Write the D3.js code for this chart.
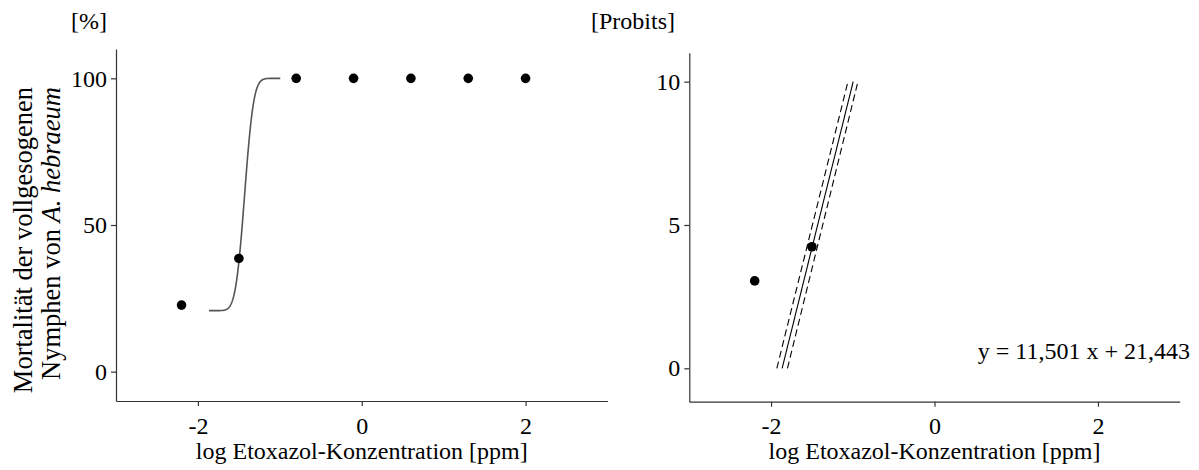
<!DOCTYPE html>
<html><head><meta charset="utf-8">
<script src="https://cdn.jsdelivr.net/npm/d3@7"></script>
<style>
body{margin:0;background:#fff;}
text{font-family:"Liberation Serif","Times New Roman",serif;fill:#000;}
</style></head>
<body><svg id="c" width="1199" height="470"></svg>
<script>
// ---- data ----
const logConc = [-2.2, -1.5, -0.8, -0.1, 0.6, 1.3, 2.0];
const mortality = [22.7, 38.6, 100, 100, 100, 100, 100];
const probitX = [-2.2, -1.5];
const probitY = [3.05, 4.24];
const fitSlope = [11.501];
const fitIntercept = [21.443];
const controlMortality = [20.8];
const ciLowerX = [-1.929, -1.059];
const ciUpperX = [-1.799, -0.937];
const ciProbit = [0, 10];
const xTicks = [-2, 0, 2];
const leftYTicks = [0, 50, 100];
const rightYTicks = [0, 5, 10];
const equationLabel = ["y = 11,501 x + 21,443"];

const svg = d3.select("#c");
const FS = 24;

function erf(x){const s=Math.sign(x);x=Math.abs(x);const t=1/(1+0.3275911*x);
 const y=1-(((((1.061405429*t-1.453152027)*t)+1.421413741)*t-0.284496736)*t+0.254829592)*t*Math.exp(-x*x);return s*y;}
const Phi = z => 0.5*(1+erf(z/Math.SQRT2));

const a = fitSlope[0], b = fitIntercept[0];
const xAtProbit = p => (p-b)/a;

function panel(xr, yr, ydom){
  const x = d3.scaleLinear().domain([-3,3]).range(xr);
  const y = d3.scaleLinear().domain(ydom).range(yr);
  return {x,y};
}

function drawAxes(p, yTicks, xr, yr){
  const gx = svg.append("g").attr("transform",`translate(0,${yr[0]})`)
    .call(d3.axisBottom(p.x).tickValues(xTicks).tickSize(5).tickSizeOuter(0).tickPadding(6).tickFormat(d=>d));
  const gy = svg.append("g").attr("transform",`translate(${xr[0]},0)`)
    .call(d3.axisLeft(p.y).tickValues(yTicks).tickSize(5).tickSizeOuter(0).tickPadding(4).tickFormat(d=>d));
  [gx,gy].forEach(g=>{
    g.selectAll("path.domain").attr("stroke","#333").attr("stroke-width",1.2);
    g.selectAll(".tick line").attr("stroke","#333").attr("stroke-width",1.2);
    g.selectAll(".tick text").attr("font-size",FS).attr("font-family","Liberation Serif").attr("fill","#000");
  });
  gx.selectAll(".tick text").attr("dy","0.9em");
}

// ---- left panel ----
const Lx=[116,607.5], Ly=[401,49];
const L = panel(Lx, Ly, [-10,110]);
drawAxes(L, leftYTicks, Lx, Ly);

const c = controlMortality[0];
const curveX = d3.range(0,201).map(i=>xAtProbit(0)+(xAtProbit(10)-xAtProbit(0))*i/200);
svg.append("path")
  .datum(curveX)
  .attr("fill","none").attr("stroke","#555").attr("stroke-width",1.6)
  .attr("d", d3.line().x(d=>L.x(d)).y(d=>L.y(c+(100-c)*Phi(a*d+b-5))));

svg.append("g").selectAll("circle").data(logConc).join("circle")
  .attr("cx",d=>L.x(d)).attr("cy",(d,i)=>L.y(mortality[i])).attr("r",4.8).attr("fill","#000");

svg.append("text").attr("x",107).attr("y",29).attr("text-anchor","end").attr("font-size",FS).text("[%]");
svg.append("text").attr("x",L.x(0)).attr("y",459).attr("text-anchor","middle").attr("font-size",FS)
  .text("log Etoxazol-Konzentration [ppm]");

const YFS = 26.5;
const yt = svg.append("g").attr("transform","rotate(-90)");
yt.append("text").attr("x",-87).attr("y",32).attr("text-anchor","end").attr("font-size",YFS)
  .text("Mortalität der vollgesogenen");
const t2 = yt.append("text").attr("x",-87).attr("y",60).attr("text-anchor","end").attr("font-size",YFS);
t2.append("tspan").text("Nymphen von ");
t2.append("tspan").attr("font-style","italic").text("A. hebraeum");

// ---- right panel ----
const Rx=[689.3,1179.7], Ry=[401.7,52.7];
const R = panel(Rx, Ry, [-1.165,11.01]);
drawAxes(R, rightYTicks, Rx, Ry);

svg.append("line")
  .attr("x1",R.x(xAtProbit(ciProbit[0]))).attr("y1",R.y(ciProbit[0]))
  .attr("x2",R.x(xAtProbit(ciProbit[1]))).attr("y2",R.y(ciProbit[1]))
  .attr("stroke","#000").attr("stroke-width",1.1);
[ciLowerX, ciUpperX].forEach(cx=>{
  svg.append("line")
    .attr("x1",R.x(cx[0])).attr("y1",R.y(ciProbit[0]))
    .attr("x2",R.x(cx[1])).attr("y2",R.y(ciProbit[1]))
    .attr("stroke","#000").attr("stroke-width",1.1).attr("stroke-dasharray","7,4");
});
svg.append("g").selectAll("circle").data(probitX).join("circle")
  .attr("cx",d=>R.x(d)).attr("cy",(d,i)=>R.y(probitY[i])).attr("r",4.8).attr("fill","#000");

svg.append("text").attr("x",675).attr("y",29).attr("text-anchor","end").attr("font-size",FS).text("[Probits]");
svg.append("text").attr("x",R.x(0)).attr("y",459).attr("text-anchor","middle").attr("font-size",FS)
  .text("log Etoxazol-Konzentration [ppm]");
svg.append("text").attr("x",1190).attr("y",359).attr("text-anchor","end").attr("font-size",FS)
  .attr("xml:space","preserve").style("white-space","pre").text(equationLabel[0]);
</script></body></html>
